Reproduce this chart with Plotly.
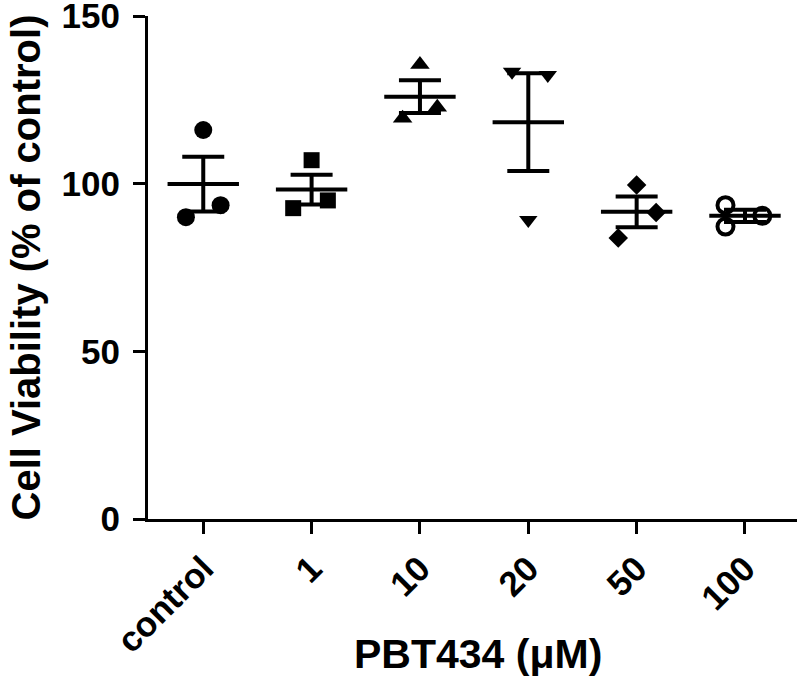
import numpy as np
import plotly.graph_objects as go

# PBT434 dose groups and the three replicate readings per group (% of control)
groups = ["control", "1", "10", "20", "50", "100"]
control_vals = [116.0, 90.0, 93.6]
pbt_1_vals = [107.0, 92.7, 95.0]
pbt_10_vals = [135.5, 119.5, 122.8]
pbt_20_vals = [133.4, 132.4, 89.2]
pbt_50_vals = [99.6, 91.4, 83.8]
pbt_100_vals = [93.6, 87.2, 90.4]
y_ticks = [0, 50, 100, 150]

all_vals = [control_vals, pbt_1_vals, pbt_10_vals, pbt_20_vals, pbt_50_vals, pbt_100_vals]

# scatter-dot styling (horizontal spread of the dots, prism-like symbols)
spread = [
    [0, -0.16, 0.16],
    [0, -0.17, 0.15],
    [0, -0.16, 0.16],
    [-0.15, 0.18, 0],
    [0, 0.18, -0.17],
    [-0.18, -0.18, 0.16],
]
symbols = ["circle", "square", "triangle-up", "triangle-down", "diamond", "circle-open"]
sizes = [18, 16, 17, 16, 15, 16]

bold = dict(family="Arial, Liberation Sans, sans-serif", color="black", weight="bold")

fig = go.Figure()

for i, vals in enumerate(all_vals):
    fig.add_trace(
        go.Scatter(
            x=[i + s for s in spread[i]],
            y=vals,
            mode="markers",
            marker=dict(
                symbol=symbols[i],
                size=sizes[i],
                color="black",
                line=dict(color="black", width=4 if symbols[i] == "circle-open" else 0),
            ),
            cliponaxis=False,
            showlegend=False,
        )
    )

# mean +/- SEM
means = [np.mean(v) for v in all_vals]
sems = [np.std(v, ddof=1) / np.sqrt(len(v)) for v in all_vals]

fig.add_trace(
    go.Scatter(
        x=list(range(len(groups))),
        y=means,
        mode="markers",
        marker=dict(symbol="line-ew", size=51, line=dict(color="black", width=4)),
        error_y=dict(type="data", array=sems, visible=True, color="black", thickness=4, width=21),
        cliponaxis=False,
        showlegend=False,
    )
)

fig.update_xaxes(
    range=[-0.51, 5.48],
    tickmode="array",
    tickvals=list(range(len(groups))),
    ticktext=groups,
    tickangle=-45,
    showline=True,
    linecolor="black",
    linewidth=3,
    ticks="outside",
    ticklen=12,
    tickwidth=3,
    tickcolor="black",
    showgrid=False,
    zeroline=False,
    automargin=False,
    tickfont=dict(size=35, **bold),
)
fig.update_yaxes(
    range=[0, 150],
    tickmode="array",
    tickvals=y_ticks,
    showline=True,
    linecolor="black",
    linewidth=3,
    ticks="outside",
    ticklen=12,
    tickwidth=3,
    tickcolor="black",
    showgrid=False,
    zeroline=False,
    automargin=False,
    ticklabelstandoff=6,
    ticklabeloverflow="allow",
    tickfont=dict(size=35, **bold),
)

fig.add_annotation(
    text="Cell Viability (% of control)",
    xref="paper", yref="paper", x=-0.188, y=0.5,
    xanchor="center", yanchor="middle", textangle=-90,
    showarrow=False, font=dict(size=40, **bold),
)
fig.add_annotation(
    text="PBT434 (μM)",
    xref="paper", yref="paper", x=0.508, y=-0.268,
    xanchor="center", yanchor="middle",
    showarrow=False, font=dict(size=41, **bold),
)

fig.update_layout(
    width=800,
    height=680,
    margin=dict(l=148, r=3, t=16, b=161),
    plot_bgcolor="white",
    paper_bgcolor="white",
)

# page body has a default 8px margin; drop it so the figure sits at the window origin
fig.write_html(
    "out.html",
    config={"displayModeBar": False},
    post_script="document.body.style.margin = '0';",
)
